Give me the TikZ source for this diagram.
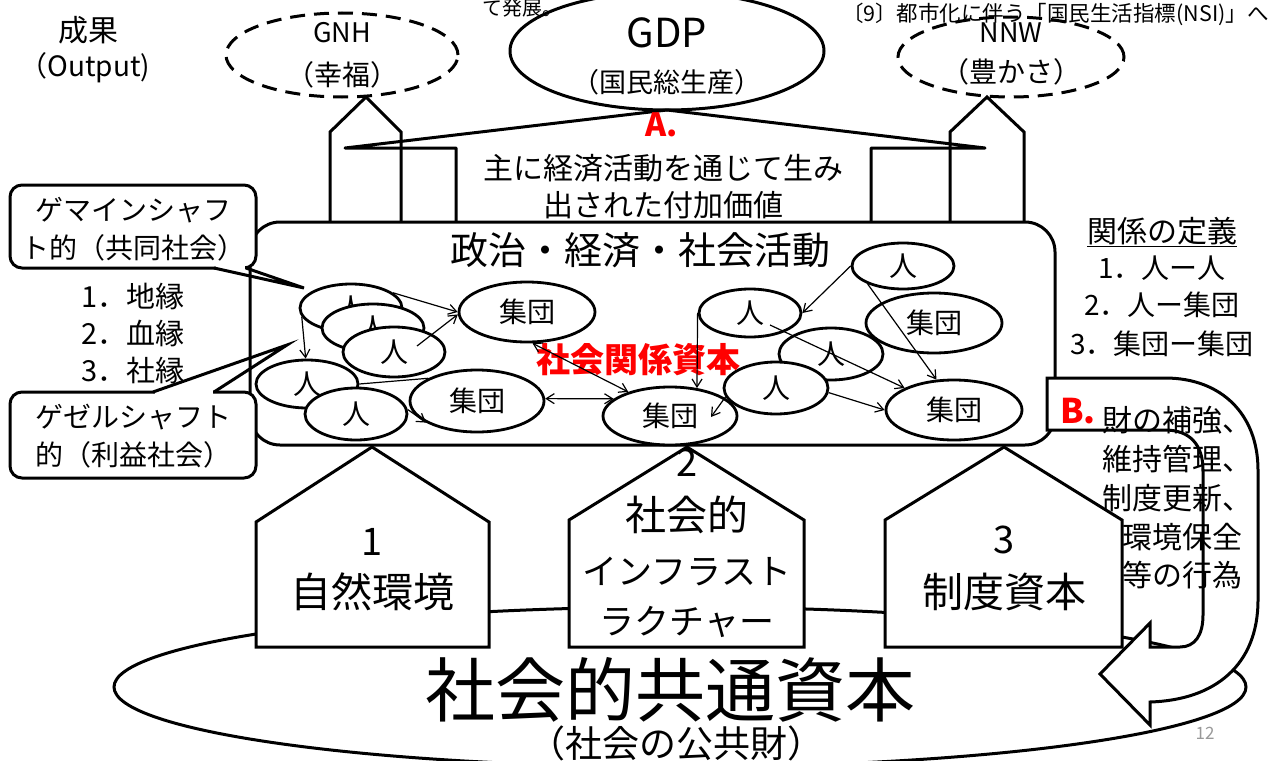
\documentclass[tikz,border=0pt]{standalone}
\usepackage{fontspec}
\setmainfont{Noto Sans CJK JP}
\usetikzlibrary{shapes.geometric,arrows.meta}
\newcommand\myfs[1]{\fontsize{#1pt}{#1pt}\selectfont}
\begin{document}
\begin{tikzpicture}[x=1pt,y=-1pt,
  bold/.style={line width=3pt, line join=round},
  tx/.style={inner sep=0pt, outer sep=0pt, align=center},
  dashell/.style={ellipse, draw, line width=3pt, dash pattern=on 15pt off 9pt, inner sep=0pt},
  person/.style={ellipse, draw, line width=2.8pt, fill=white, inner sep=0pt, minimum width=102pt, minimum height=48pt, font=\myfs{28}},
  group/.style={person, minimum width=136pt, minimum height=60pt},
  arr/.style={line width=1.2pt, -{Straight Barb[length=8pt,width=10pt]}},
  biarr/.style={line width=1.2pt, {Straight Barb[length=8pt,width=10pt]}-{Straight Barb[length=8pt,width=10pt]}},
]
\useasboundingbox (0,0) rectangle (1271,760);
\fill[white] (0,0) rectangle (1271,760);

% bottom common capital ellipse
\node[ellipse, draw, line width=3pt, minimum width=1132pt, minimum height=160pt, inner sep=0pt] (bigell) at (680,687) {};

% bottom houses
\draw[bold, line join=miter, fill=white] (256,647) -- (256,522) -- (372,447) -- (489,522) -- (489,647) -- cycle;
\draw[bold, line join=miter, fill=white] (569,647) -- (569,520) -- (687,447) -- (804,520) -- (804,647) -- cycle;
\draw[bold, line join=miter, fill=white] (885,647) -- (885,520) -- (1004,447) -- (1122,520) -- (1122,647) -- cycle;

% main activity box
\draw[bold, fill=white, rounded corners=30pt] (250,222) rectangle (1055,445);

% top houses and funnel
\draw[bold, line join=miter] (330,222) -- (330,132) -- (366,97) -- (401,132) -- (401,222);
\draw[bold, line join=miter] (950,222) -- (950,132) -- (987,97) -- (1024,132) -- (1024,222);
\draw[bold] (456,222) -- (456,148) -- (345,148) -- (667,110) -- (985,148) -- (871,148) -- (871,222);

% output ellipses
\node[dashell, minimum width=232pt, minimum height=84pt] (gnh) at (342,55) {};
\node[ellipse, draw, line width=3pt, minimum width=314pt, minimum height=118pt, inner sep=0pt] (gdp) at (667,51) {};
\node[dashell, minimum width=226pt, minimum height=80pt] (nnw) at (1011,57) {};

% network
\node[person] (pA) at (351,308) {人};
\node[person] (pB) at (373,328) {人};
\node[person, minimum height=50pt] (pC) at (394,352) {人};
\node[group] (gT) at (527,312) {集団};
\node[person] (pD) at (307,384) {人};
\node[person, minimum height=52pt] (pE) at (356,414) {人};
\node[group, minimum width=134pt, minimum height=62pt] (gML) at (477,401) {集団};
\node[group, minimum width=134pt, minimum height=58pt] (gBC) at (670,416) {集団};
\node[person, minimum height=46pt] (pTR) at (903,266) {人};
\node[person] (pRM) at (750,313) {人};
\node[group] (gRT) at (934,323) {集団};
\node[person, minimum width=104pt, minimum height=52pt] (pCe) at (831,354) {人};
\node[person, minimum width=104pt, minimum height=52pt] (pLo) at (776,388) {人};
\node[group] (gRB) at (954,410) {集団};

\node[tx, font=\myfs{34}\bfseries, text=red] (scap) at (638,360) {社会関係資本};

\draw[arr] (pA.20) -- (gT.180);
\draw[arr] ([shift={(23,-6)}]pC.center) -- (gT.182);
\draw[arr] (pA.190) -- (pD.93);
\draw[line width=1.2pt] (pD.0) -- (gML.155);
\draw[arr] (pE.5) -- (gML.203);
\draw[biarr] (gT.280) -- (gBC.150);
\draw[biarr] (gML.2) -- (gBC.163);
\draw[arr] (pRM.180) -- (gBC.46);
\draw[arr] (pLo.190) -- ([shift={(41,1)}]gBC.center);
\draw[arr] (pTR.180) -- (pRM.0);
\draw[arr] (pTR.207) -- (gRB.120);
\draw[arr] ([shift={(20,12)}]pRM.center) -- (gRB.156);
\draw[arr] (pLo.355) -- (gRB.180);

% callouts
\draw[line width=3pt, fill=white, rounded corners=12pt] (10,185) rectangle (256,268);
\draw[white, line width=3.6pt] (215.5,268) -- (244.5,268);
\draw[line width=3pt, line join=miter] (214,268) -- (304,288) -- (246,268);
\draw[line width=3pt, fill=white, rounded corners=12pt] (10,392) rectangle (256,478);
\draw[white, line width=3.6pt] (154.5,392) -- (212.5,392);
\draw[line width=3pt, line join=miter] (153,392) -- (287,345) -- (214,392);

% B arrow
\draw[line width=3pt, fill=white, line join=miter] (1047,378) -- (1165,378) .. controls (1222,378) and (1258,415) .. (1258,470) -- (1258,600) .. controls (1258,665) and (1215,700) .. (1150,702) -- (1150,725) -- (1100,674) -- (1150,623) -- (1150,647) -- (1180,647) .. controls (1195,647) and (1203,635) .. (1203,615) -- (1203,470) .. controls (1203,445) and (1190,430) .. (1165,430) -- (1047,430) -- cycle;

% texts
\node[tx, font=\myfs{30}] (seika) at (88,30) {成果};
\node[tx, font=\myfs{28}] (output) at (85,68) {（Output)};
\node[tx, font=\myfs{27}] (gnhT) at (342,33) {GNH};
\node[tx, font=\myfs{28}] (gnhJ) at (342,75) {（幸福）};
\node[tx, font=\myfs{40}] (gdpT) at (667,33) {GDP};
\node[tx, font=\myfs{27}] (gdpJ) at (667,82) {（国民総生産）};
\node[tx, font=\myfs{27}] (nnwT) at (1011,33) {NNW};
\node[tx, font=\myfs{28}] (nnwJ) at (1011,72) {（豊かさ）};
\node[tx, font=\myfs{20}] (hatten) at (522,8) {て発展。};
\node[tx, font=\myfs{21.5}, anchor=west] (nsi) at (842,14) {〔9〕都市化に伴う「国民生活指標(NSI)」へ};

\node[tx, font=\myfs{32}\bfseries, text=red] (labA) at (662,125) {A.};
\node[tx, font=\myfs{30}] (mainL1) at (663,168) {主に経済活動を通じて生み};
\node[tx, font=\myfs{30}] (mainL2) at (663,205) {出された付加価値};
\node[tx, font=\myfs{38}] (title) at (640,250) {政治・経済・社会活動};

\node[tx, font=\myfs{30}] (rdef) at (1162,232) {\underline{関係の定義}};
\node[tx, font=\myfs{28}] (r1) at (1162,268) {1．人ー人};
\node[tx, font=\myfs{28}] (r2) at (1162,305) {2．人ー集団};
\node[tx, font=\myfs{28}] (r3) at (1162,344) {3．集団ー集団};

\node[tx, font=\myfs{29}] (l1) at (133,296) {1．地縁};
\node[tx, font=\myfs{29}] (l2) at (133,333) {2．血縁};
\node[tx, font=\myfs{29}] (l3) at (133,370) {3．社縁};

\node[tx, font=\myfs{28}] (gm1) at (133,210) {ゲマインシャフ};
\node[tx, font=\myfs{28}] (gm2) at (133,248) {ト的（共同社会）};
\node[tx, font=\myfs{28}] (gs1) at (133,417) {ゲゼルシャフト};
\node[tx, font=\myfs{28}] (gs2) at (133,455) {的（利益社会）};

\node[tx, font=\myfs{38}] (h1n) at (372,542) {1};
\node[tx, font=\myfs{41}] (h1t) at (372,592) {自然環境};
\node[tx, font=\myfs{38}] (h2n) at (687,463) {2};
\node[tx, font=\myfs{41}] (h2a) at (687,515) {社会的};
\node[tx, font=\myfs{35}] (h2b) at (687,572) {インフラスト};
\node[tx, font=\myfs{35}] (h2c) at (687,622) {ラクチャー};
\node[tx, font=\myfs{38}] (h3n) at (1004,540) {3};
\node[tx, font=\myfs{41}] (h3t) at (1004,592) {制度資本};

\node[tx, font=\myfs{70}] (cT) at (670,690) {社会的共通資本};
\node[tx, font=\myfs{37}] (cJ) at (676,743) {（社会の公共財）};
\node[tx, font=\myfs{17}, text=gray!80] (pg) at (1205,733) {12};

\node[tx, font=\myfs{34}\bfseries, text=red] (labB) at (1078,411) {B.};
\node[tx, font=\myfs{30}, anchor=west] (b1) at (1102,420) {財の補強、};
\node[tx, font=\myfs{30}, anchor=west] (b2) at (1102,459) {維持管理、};
\node[tx, font=\myfs{30}, anchor=west] (b3) at (1102,498) {制度更新、};
\node[tx, font=\myfs{30}, anchor=west] (b4) at (1122,537) {環境保全};
\node[tx, font=\myfs{30}, anchor=west] (b5) at (1122,575) {等の行為};
\end{tikzpicture}
\end{document}
